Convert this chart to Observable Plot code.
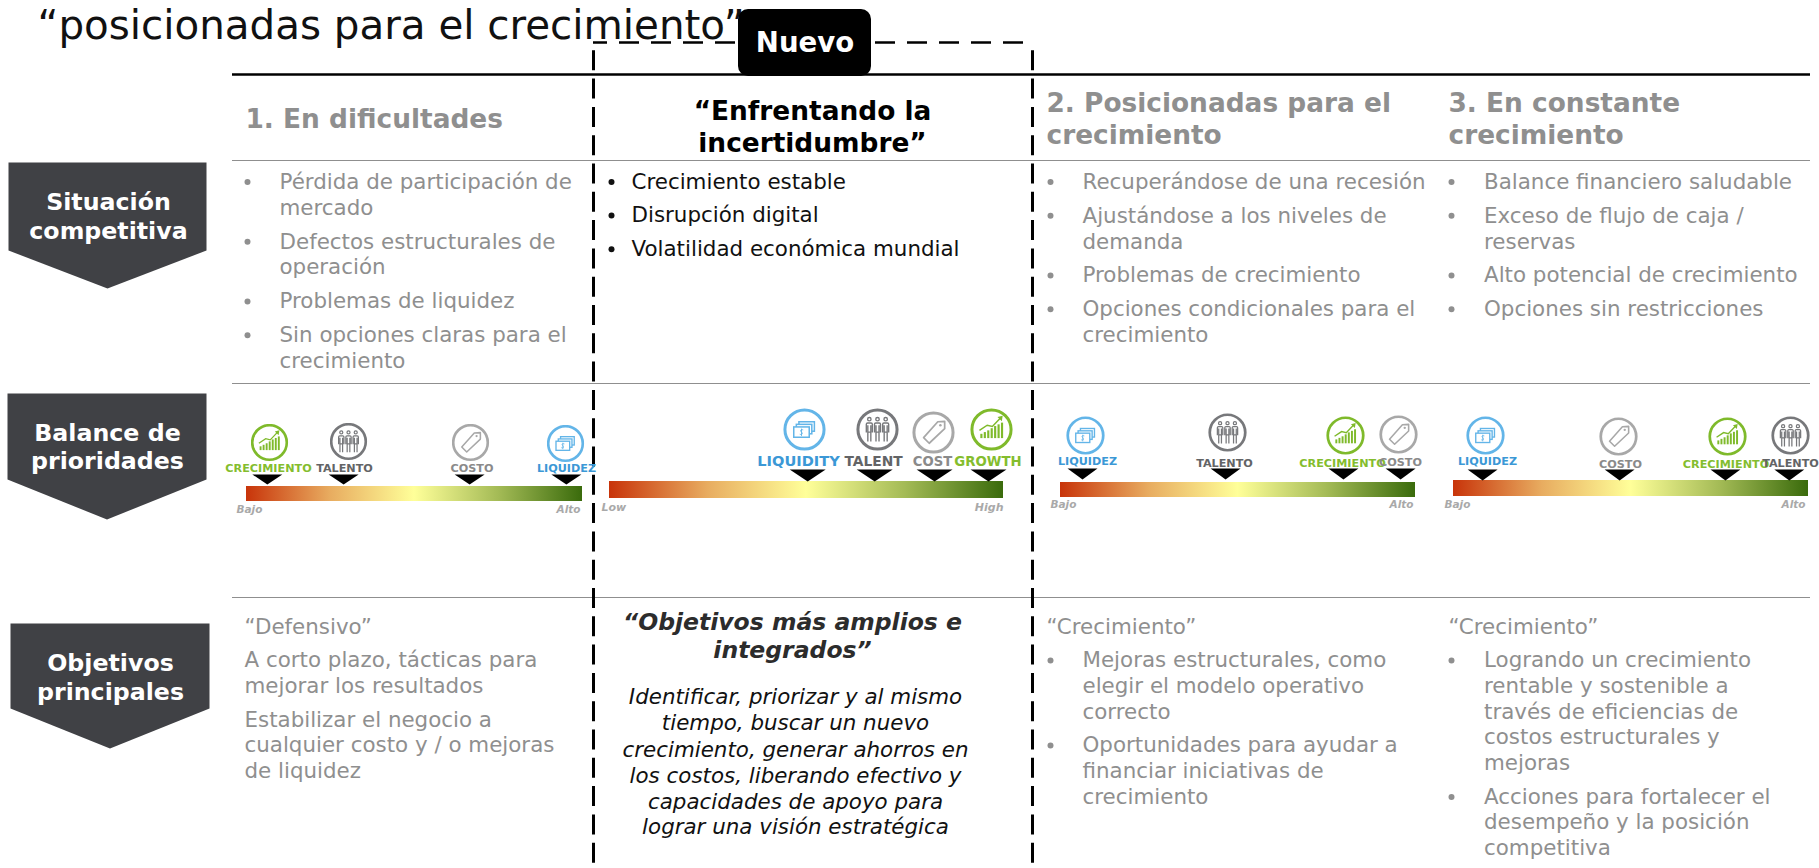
<!DOCTYPE html>
<html><head><meta charset="utf-8">
<script src="https://cdn.jsdelivr.net/npm/d3@7"></script>
<script src="https://cdn.jsdelivr.net/npm/@observablehq/plot@0.6"></script>
<style>html,body{margin:0;padding:0;background:#fff;overflow:hidden}svg{display:block}</style>
</head><body>
<script>
// ---------- content ----------
const titleText = "“posicionadas para el crecimiento”";
const badgeText = "Nuevo";
const rowLabels = [["Situación","competitiva"],["Balance de","prioridades"],["Objetivos","principales"]];
const headers = [["1. En dificultades"],["“Enfrentando la","incertidumbre”"],["2. Posicionadas para el","crecimiento"],["3. En constante","crecimiento"]];
const situation1 = [["Pérdida de participación de","mercado"],["Defectos estructurales de","operación"],["Problemas de liquidez"],["Sin opciones claras para el","crecimiento"]];
const situation2 = [["Crecimiento estable"],["Disrupción digital"],["Volatilidad económica mundial"]];
const situation3 = [["Recuperándose de una recesión"],["Ajustándose a los niveles de","demanda"],["Problemas de crecimiento"],["Opciones condicionales para el","crecimiento"]];
const situation4 = [["Balance financiero saludable"],["Exceso de flujo de caja /","reservas"],["Alto potencial de crecimiento"],["Opciones sin restricciones"]];
const objective1Lead = "“Defensivo”";
const objective1 = [["A corto plazo, tácticas para","mejorar los resultados"],["Estabilizar el negocio a","cualquier costo y / o mejoras","de liquidez"]];
const objective2Lead = ["“Objetivos más amplios e","integrados”"];
const objective2 = ["Identificar, priorizar y al mismo","tiempo, buscar un nuevo","crecimiento, generar ahorros en","los costos, liberando efectivo y","capacidades de apoyo para","lograr una visión estratégica"];
const objective3Lead = "“Crecimiento”";
const objective3 = [["Mejoras estructurales, como","elegir el modelo operativo","correcto"],["Oportunidades para ayudar a","financiar iniciativas de","crecimiento"]];
const objective4Lead = "“Crecimiento”";
const objective4 = [["Logrando un crecimiento","rentable y sostenible a","través de eficiencias de","costos estructurales y","mejoras"],["Acciones para fortalecer el","desempeño y la posición","competitiva"]];
// priority position of each lever on the low-high bar (0 = low, 1 = high)
const panel1Kinds = ["growth","talent","cost","liquidity"];
const panel1Names = ["CRECIMIENTO","TALENTO","COSTO","LIQUIDEZ"];
const panel1Values = [0.062,0.289,0.664,0.952];
const panel2Kinds = ["liquidity","talent","cost","growth"];
const panel2Names = ["LIQUIDITY","TALENT","COST","GROWTH"];
const panel2Values = [0.503,0.673,0.825,0.962];
const panel3Kinds = ["liquidity","talent","growth","cost"];
const panel3Names = ["LIQUIDEZ","TALENTO","CRECIMIENTO","COSTO"];
const panel3Values = [0.062,0.465,0.797,0.958];
const panel4Kinds = ["liquidity","cost","growth","talent"];
const panel4Names = ["LIQUIDEZ","COSTO","CRECIMIENTO","TALENTO"];
const panel4Values = [0.082,0.468,0.766,0.946];
const endLabelsEs = ["Bajo","Alto"];
const endLabelsEn = ["Low","High"];

// ---------- layout & style ----------
const W = 1819, H = 868, FONT = "'DejaVu Sans', Verdana, sans-serif";
const GRAY = "#8f8f8f", DARK = "#404145";
const kindColor = {growth:"#7fba2b",talent:"#77787b",cost:"#a8a8a8",liquidity:"#63b5e8"};
const labelColor = {growth:"#84bd2e",talent:"#636466",cost:"#8a8a8a",liquidity:"#3b98d6"};
const panels = [
 {kinds:panel1Kinds,names:panel1Names,values:panel1Values,ends:endLabelsEs,x0:246,x1:582,y0:486,y1:501,triTop:474,triTip:484,tw:15,r:19,fs:[11.2,11.2,11.2,11.2],endFs:10.5,endY:512,endL:236,endR:580,
  iconX:[269,348,470,565],iconY:[442,441,442,443],labX:[268,344,471.5,566],labY:[471,471,471,471]},
 {kinds:panel2Kinds,names:panel2Names,values:panel2Values,ends:endLabelsEn,x0:609,x1:1003,y0:481,y1:498,triTop:469,triTip:481,tw:18,r:21.5,fs:[14.6,13.8,13.2,13.3],endFs:11,endY:510,endL:601,endR:1003,
  iconX:[804,877,933,991],iconY:[429,429,432,429],labX:[798,873,932,987.5],labY:[465,465,465,465]},
 {kinds:panel3Kinds,names:panel3Names,values:panel3Values,ends:endLabelsEs,x0:1060,x1:1415,y0:482,y1:497,triTop:468,triTip:479,tw:15,r:19.5,fs:[11.2,11.2,11.2,11.2],endFs:10.5,endY:507.5,endL:1050,endR:1413,
  iconX:[1085,1227,1345,1398],iconY:[435,432,435,434],labX:[1087,1224,1342,1400],labY:[464,466,466,465]},
 {kinds:panel4Kinds,names:panel4Names,values:panel4Values,ends:endLabelsEs,x0:1453,x1:1808,y0:480,y1:496,triTop:469,triTip:480,tw:15,r:19.5,fs:[11.2,11.2,11.2,11.2],endFs:10.5,endY:507.5,endL:1444,endR:1805,
  iconX:[1485,1618,1727,1790],iconY:[435,436,436,435],labX:[1487,1620,1725.5,1790],labY:[464,467,467,466]}
];

// flow bullet items into text rows
function flow(items, x, y, bulletX, color, line, item) {
  const lines = [], bullets = [];
  let yy = y;
  items.forEach((it) => {
    if (bulletX != null) bullets.push({x: bulletX, y: yy, color});
    it.forEach((t, j) => { lines.push({t, x, y: yy, color}); yy += j < it.length - 1 ? line : item; });
  });
  return {lines, bullets};
}
const flows = [
  flow(situation1,279,181.5,247,GRAY,25.9,33.8), flow(situation2,631,181.5,611,"#111",25.9,33.6),
  flow(situation3,1082,181.5,1050,GRAY,25.9,33.8), flow(situation4,1483.5,181.5,1451,GRAY,25.9,33.8),
  flow(objective3,1082,660,1050,GRAY,25.7,33.6), flow(objective4,1483.5,660,1451,GRAY,25.7,33.6),
  flow(objective1,244,660,null,GRAY,25.7,33.6)
];
const bodyLines = flows.flatMap(f => f.lines), bullets = flows.flatMap(f => f.bullets);
const leads = [{t:objective1Lead,x:244},{t:objective3Lead,x:1046},{t:objective4Lead,x:1448}];
const headStart = [
  {t:headers[0][0],x:245,y:119.5,c:GRAY},
  {t:headers[2][0],x:1046,y:103,c:GRAY},{t:headers[2][1],x:1046,y:135,c:GRAY},
  {t:headers[3][0],x:1448,y:103,c:GRAY},{t:headers[3][1],x:1448,y:135,c:GRAY}
];
const headMiddle = [{t:headers[1][0],x:812,y:111},{t:headers[1][1],x:812,y:143}];
const chevrons = [{x0:8,x1:206,y0:162,s:250,y1:288},{x0:7,x1:206,y0:393,s:479,y1:519},{x0:10,x1:209,y0:623,s:708,y1:748}];
const chevPts = chevrons.flatMap((c,i)=>[[c.x0,c.y0],[c.x1,c.y0],[c.x1,c.s],[(c.x0+c.x1)/2,c.y1],[c.x0,c.s],[c.x0,c.y0]].map(([x,y])=>({x,y,i})));
const rowText = [
 {t:rowLabels[0][0],x:108,y:202},{t:rowLabels[0][1],x:108,y:231},
 {t:rowLabels[1][0],x:107,y:433},{t:rowLabels[1][1],x:107,y:461},
 {t:rowLabels[2][0],x:110,y:662.5},{t:rowLabels[2][1],x:110,y:691.5}
];
const objY = [696.5,723,749.5,776,802,827];

// icons
function iconSvg(kind){
  const c = kindColor[kind];
  const g = {
    liquidity:`<g fill="#fff" stroke="${c}" stroke-width="3.5"><rect x="37" y="32" width="36" height="22"/><rect x="31" y="38" width="36" height="22"/><rect x="25" y="44" width="36" height="24"/></g><path d="M47 51c-5-2-8 1-4 5s1 7-4 5M43 48v17" fill="none" stroke="${c}" stroke-width="2.2"/>`,
    talent:`<g fill="none" stroke="${c}" stroke-width="3.2">${[31,50,69].map(x=>`<circle cx="${x}" cy="26" r="4"/><path d="M${x-7} 57V38q0-3 3-3h8q3 0 3 3v19M${x-3.5} 78V40M${x+3.5} 78V40M${x-3.5} 56h7"/>`).join("")}</g>`,
    cost:`<path d="M27 62 60 25l16-1 0 17-36 34z" fill="none" stroke="${c}" stroke-width="4" stroke-linejoin="round"/><circle cx="66" cy="33" r="3" fill="${c}"/>`,
    growth:`<g fill="${c}">${[[24,60,5],[32,56,5],[40,52,5],[48,47,5],[56,42,5],[64,38,5],[72,34,5]].map(([x,y,w])=>`<rect x="${x}" y="${y}" width="${w}" height="${70-y}"/>`).join("")}</g><path d="M22 52 40 40l12 3 20-21" fill="none" stroke="${c}" stroke-width="3.5"/><path d="M64 21l12-3-2 13z" fill="${c}"/>`
  }[kind];
  const svg = `<svg xmlns="http://www.w3.org/2000/svg" viewBox="0 0 100 100"><circle cx="50" cy="50" r="45.5" fill="#fff" stroke="${c}" stroke-width="7"/>${g}</svg>`;
  return "data:image/svg+xml;charset=utf-8," + encodeURIComponent(svg);
}
const tris = [], icons = [], labels = [], endStart = [], endEnd = [];
panels.forEach((p,pi)=>{
  const sx = d3.scaleLinear([0,1],[p.x0,p.x1]);
  p.values.forEach((v,i)=>{
    const cx = sx(v);
    [[cx-p.tw,p.triTop],[cx+p.tw,p.triTop],[cx,p.triTip],[cx-p.tw,p.triTop]].forEach(([x,y])=>tris.push({x,y,id:pi+"-"+i}));
    icons.push({x:p.iconX[i],y:p.iconY[i],src:iconSvg(p.kinds[i]),size:p.r*2});
    labels.push({t:p.names[i],x:p.labX[i],y:p.labY[i],c:labelColor[p.kinds[i]],fs:p.fs[i]});
  });
  endStart.push({t:p.ends[0],x:p.endL,y:p.endY,fs:p.endFs});
  endEnd.push({t:p.ends[1],x:p.endR,y:p.endY,fs:p.endFs});
});

const gradientDef = () => {
  const ns = "http://www.w3.org/2000/svg";
  const defs = document.createElementNS(ns,"defs");
  const lg = document.createElementNS(ns,"linearGradient");
  lg.setAttribute("id","barGrad");
  [[0,"#c8340a"],[0.25,"#e8ac60"],[0.5,"#ffff99"],[0.75,"#a4bb56"],[1,"#3a6b0c"]].forEach(([o,c])=>{
    const s = document.createElementNS(ns,"stop");
    s.setAttribute("offset",o); s.setAttribute("stop-color",c); lg.appendChild(s);
  });
  defs.appendChild(lg);
  return defs;
};

const txt = (data,o) => Plot.text(data,{text:"t",x:"x",y:"y",lineAnchor:"middle",fontFamily:FONT,...o});
const endOpts = {text:"t",x:"x",y:"y",fontSize:"fs",fontWeight:"bold",fontStyle:"italic",fill:"#a9a9a9",fontFamily:FONT,lineAnchor:"bottom"};

const chart = Plot.plot({
  width:W,height:H,margin:0,
  x:{domain:[0,W],range:[0,W],axis:null},
  y:{domain:[0,H],range:[0,H],axis:null},
  style:{background:"#fff",fontFamily:FONT},
  marks:[
    gradientDef,
    Plot.ruleY([74],{x1:232,x2:1810,stroke:"#000",strokeWidth:2.5}),
    Plot.ruleY([160,383,597],{x1:232,x2:1810,stroke:"#8f8f8f",strokeWidth:1}),
    txt([{t:titleText,x:37,y:26}],{fontSize:40.4,fill:"#111",textAnchor:"start"}),
    Plot.ruleY([42],{x1:593,x2:1032,stroke:"#000",strokeWidth:2.5,strokeDasharray:"20 12",strokeDashoffset:6}),
    Plot.ruleX([593,1032],{y1:42,y2:868,stroke:"#000",strokeWidth:3,strokeDasharray:"20 8.3",strokeDashoffset:20}),
    Plot.rect([{}],{x1:()=>738,x2:()=>871,y1:()=>9,y2:()=>76,fill:"#000",rx:10}),
    txt([{t:badgeText,x:804.5,y:43}],{fontSize:27.6,fontWeight:"bold",fill:"#fff"}),
    Plot.line(chevPts,{x:"x",y:"y",z:"i",fill:DARK,stroke:"none"}),
    txt(rowText,{fontSize:23.7,fontWeight:"bold",fill:"#fff"}),
    txt(headStart,{fontSize:26.4,fontWeight:"bold",fill:"c",textAnchor:"start"}),
    txt(headMiddle,{fontSize:26.4,fontWeight:"bold",fill:"#000"}),
    Plot.dot(bullets,{x:"x",y:"y",r:3,fill:"color",stroke:"none"}),
    txt(bodyLines,{fontSize:21.4,fill:"color",textAnchor:"start"}),
    txt(leads.map(d=>({...d,y:626.5})),{fontSize:21.4,fill:GRAY,textAnchor:"start"}),
    txt(objective2Lead.map((t,i)=>({t,x:792,y:[622,650][i]})),{fontSize:23.5,fontWeight:"bold",fontStyle:"italic",fill:"#2c2c2c"}),
    txt(objective2.map((t,i)=>({t,x:795,y:objY[i]})),{fontSize:21.4,fontStyle:"italic",fill:"#111"}),
    Plot.rect(panels,{x1:"x0",x2:"x1",y1:"y0",y2:"y1",fill:"url(#barGrad)"}),
    Plot.line(tris,{x:"x",y:"y",z:"id",fill:"#000",stroke:"none"}),
    Plot.image(icons,{x:"x",y:"y",src:"src",width:"size",height:"size"}),
    Plot.text(labels,{text:"t",x:"x",y:"y",fill:"c",fontSize:"fs",fontWeight:"bold",fontFamily:FONT,lineAnchor:"bottom"}),
    Plot.text(endStart,{...endOpts,textAnchor:"start"}),
    Plot.text(endEnd,{...endOpts,textAnchor:"end"})
  ]
});
document.body.appendChild(chart);
</script>
</body></html>
